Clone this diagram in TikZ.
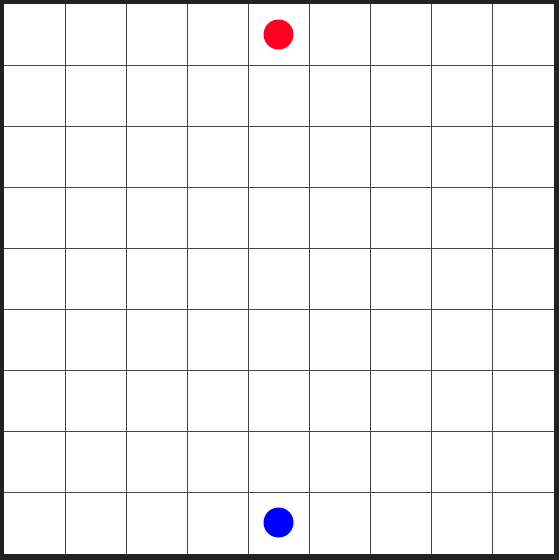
\documentclass[tikz,border=0pt]{standalone}
\usetikzlibrary{calc}
\definecolor{bdframe}{HTML}{222222}
\definecolor{bdgrid}{HTML}{444444}
\definecolor{bdred}{HTML}{FF0022}
\definecolor{bdblue}{HTML}{0000FF}
\tikzset{
  frame/.style={fill=bdframe,draw=none},
  board/.style={fill=white,draw=none},
  gridline/.style={draw=bdgrid,line width=0.55pt},
  piece/.style={circle,draw=none,minimum size=0.6cm,inner sep=0pt},
}
\begin{document}
\begin{tikzpicture}[x=0.02cm,y=-0.02cm]
  \useasboundingbox (0,0) rectangle (559,560);
  \fill[frame] (0,0) rectangle (559,560);
  \fill[board] (4,4) rectangle (554,554);

  % ---- 9x9 board ----
  \foreach \i in {1,...,8}{
    \draw[gridline] ({4+61.11*\i},4) -- ({4+61.11*\i},554);
    \draw[gridline] (4,{4+61.11*\i}) -- (554,{4+61.11*\i});
  }

  % ---- pieces ----
  \node[piece,fill=bdred] (top) at (278.5,34.5) {};
  \node[piece,fill=bdblue] (bottom) at (278.5,522.5) {};
\end{tikzpicture}
\end{document}
